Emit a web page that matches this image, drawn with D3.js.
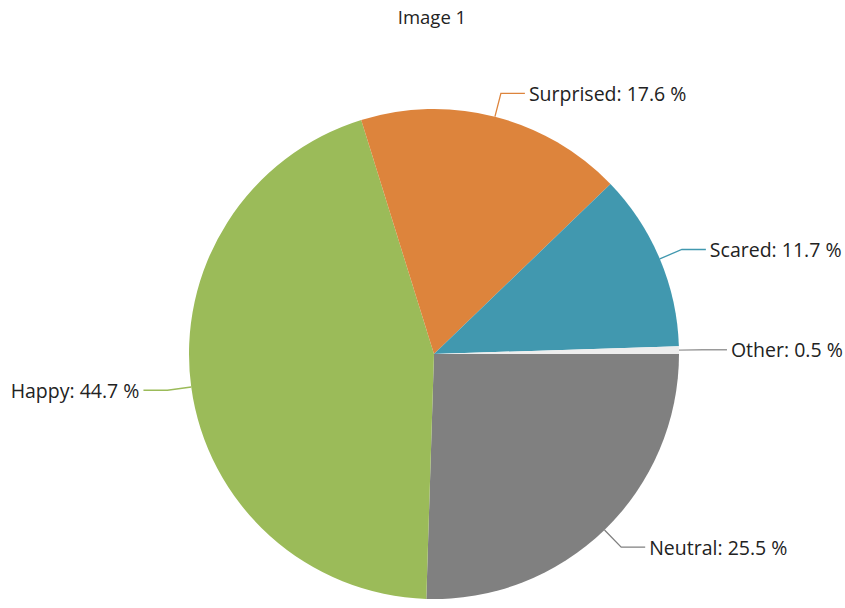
<!DOCTYPE html>
<html><head><meta charset="utf-8">
<script src="https://cdn.jsdelivr.net/npm/d3@7"></script>
<style>html,body{margin:0;padding:0;background:#fff;}svg{display:block;}</style>
</head><body>
<svg id="chart" width="845" height="608"></svg>
<script>
const categories = ["Neutral", "Happy", "Surprised", "Scared", "Other"];
const values = [25.5, 44.7, 17.6, 11.7, 0.5];
const colors = ["#808080", "#9BBB59", "#DD843C", "#4198AF", "#EDEDED"];
const title = "Image 1";

const svg = d3.select("#chart");
const W = 845, H = 608;
const cx = 434, cy = 354, R = 245;
const font = "'Open Sans', 'Noto Sans', sans-serif";
const fsTitle = 18.5, fs = 19.5;

svg.append("text").attr("x", 432).attr("y", 16).attr("text-anchor", "middle")
  .attr("dominant-baseline", "central").attr("font-family", font).attr("font-size", fsTitle)
  .attr("fill", "#222").text(title);

const data = categories.map((c, i) => ({cat: c, value: values[i], color: colors[i]}));
const pie = d3.pie().value(d => d.value).sort(null)
  .startAngle(Math.PI / 2).endAngle(Math.PI / 2 + 2 * Math.PI);
const arcs = pie(data);
const arc = d3.arc().innerRadius(0).outerRadius(R);

const g = svg.append("g").attr("transform", `translate(${cx},${cy})`);
g.selectAll("path.slice").data(arcs).enter().append("path")
  .attr("class", "slice").attr("d", arc).attr("fill", d => d.data.color);

const elbowR = R + 24, hLen = 24;
arcs.forEach(a => {
  const m = (a.startAngle + a.endAngle) / 2;
  const sx = Math.sin(m), sy = -Math.cos(m);
  const p0 = [R * sx, R * sy];
  const p1 = [elbowR * sx, elbowR * sy];
  const right = sx >= 0;
  const p2 = [p1[0] + (right ? hLen : -hLen), p1[1]];
  g.append("polyline").attr("points", [p0, p1, p2].map(p => p.join(",")).join(" "))
    .attr("fill", "none").attr("stroke", a.data.cat === "Other" ? "#9a9a9a" : a.data.color)
    .attr("stroke-width", 1.3);
  g.append("text").attr("x", p2[0] + (right ? 4 : -4)).attr("y", p2[1])
    .attr("text-anchor", right ? "start" : "end").attr("dominant-baseline", "central")
    .attr("font-family", font).attr("font-size", fs).attr("fill", "#222")
    .text(`${a.data.cat}: ${a.data.value} %`);
});
</script>
</body></html>
